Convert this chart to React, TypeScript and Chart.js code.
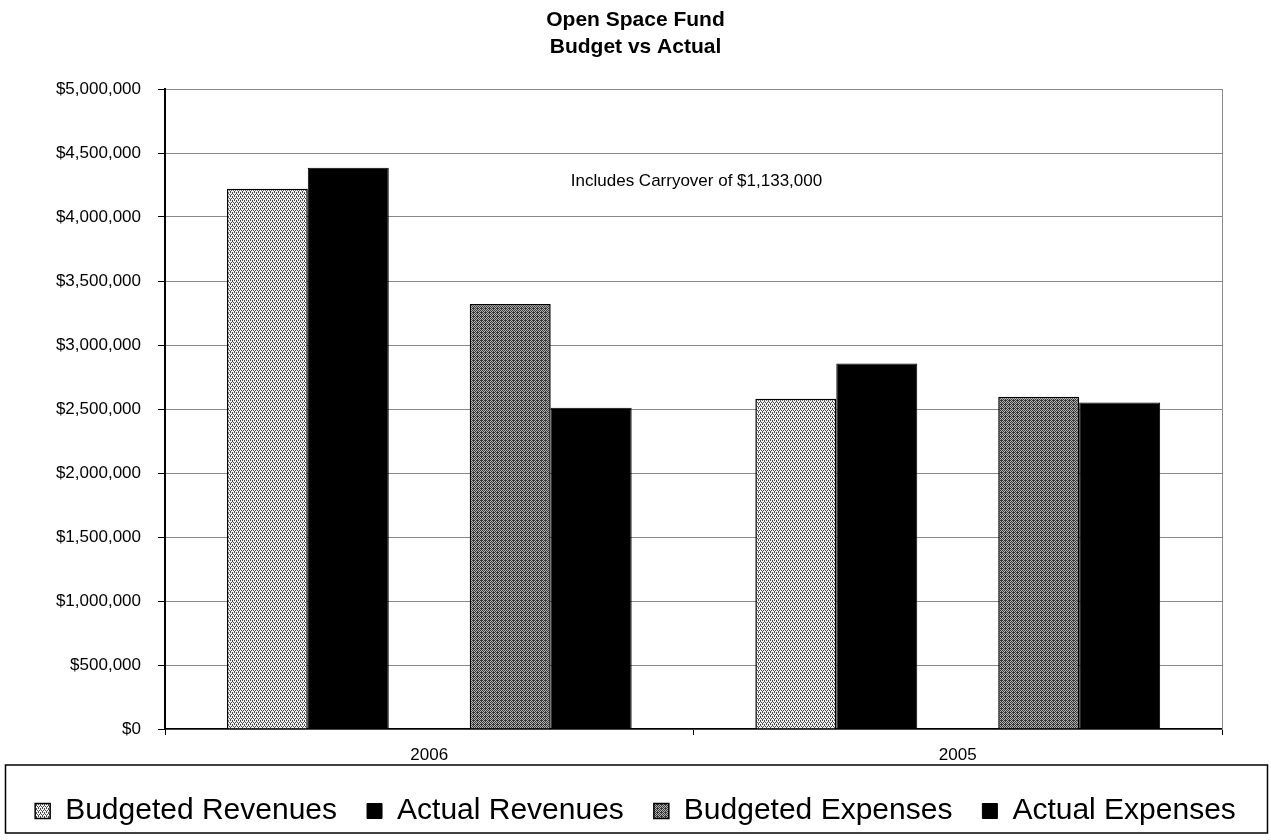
import React, { useEffect, useRef } from 'react';
import { Chart, registerables } from 'chart.js';

Chart.register(...registerables);

const categories = ['2006', '2005'];
const seriesLabels = ['Budgeted Revenues', 'Actual Revenues', 'Budgeted Expenses', 'Actual Expenses'];
const budgetedRevenues = [4220000, 2580000];
const actualRevenues = [4385000, 2855000];
const gapSeries = [null, null];
const budgetedExpenses = [3320000, 2595000];
const actualExpenses = [2510000, 2550000];
const titleLines = ['Open Space Fund', 'Budget vs Actual'];
const noteText = 'Includes Carryover of $1,133,000';
const noteValue = 4280000;
const yMin = 0;
const yMax = 5000000;
const yStep = 500000;

const FONT = '"Liberation Sans", Arial, Helvetica, sans-serif';

function makePattern(size: number, bg: string, dots: [number, number][], dotColor: string) {
  const c = document.createElement('canvas');
  c.width = size;
  c.height = size;
  const g = c.getContext('2d')!;
  g.fillStyle = bg;
  g.fillRect(0, 0, size, size);
  g.fillStyle = dotColor;
  dots.forEach(([x, y]) => g.fillRect(x, y, 1, 1));
  const ctx = document.createElement('canvas').getContext('2d')!;
  return ctx.createPattern(c, 'repeat') as CanvasPattern;
}

export default function App() {
  const ref = useRef<HTMLCanvasElement | null>(null);

  useEffect(() => {
    document.body.style.margin = '0';
    const canvas = ref.current;
    if (!canvas) return;

    const lightPattern = makePattern(
      4,
      '#f2f2f2',
      [[0, 0], [2, 0], [1, 2], [3, 2], [0, 1], [2, 3]],
      '#4a4a4a'
    );
    const darkPattern = makePattern(
      4,
      '#b0b0b0',
      [[0, 0], [2, 0], [1, 1], [3, 1], [0, 2], [2, 2], [1, 3], [3, 3], [1, 0]],
      '#383838'
    );

    const legendPadding = 30;
    const legendFontSize = 30;

    const framePlugin = {
      id: 'framePlugin',
      afterDraw(chart: any) {
        const ctx = chart.ctx;
        const lg = chart.legend;
        if (!lg) return;
        const cy = lg.top + legendPadding + legendFontSize / 2;
        ctx.save();
        ctx.strokeStyle = '#000';
        ctx.lineWidth = 1.5;
        ctx.strokeRect(5.5, cy - 46, 1262, 68);
        ctx.restore();
      },
      afterDatasetsDraw(chart: any) {
        const ctx = chart.ctx;
        const area = chart.chartArea;
        const y = chart.scales.y.getPixelForValue(noteValue);
        ctx.save();
        ctx.font = `17px ${FONT}`;
        ctx.fillStyle = '#000';
        ctx.textAlign = 'center';
        ctx.textBaseline = 'middle';
        ctx.fillText(noteText, (area.left + area.right) / 2 + 3, y);
        ctx.restore();
      },
    };

    const chart = new Chart(canvas, {
      type: 'bar',
      data: {
        labels: categories,
        datasets: [
          { label: seriesLabels[0], data: budgetedRevenues, backgroundColor: lightPattern, borderColor: '#000', borderWidth: 1.5 },
          { label: seriesLabels[1], data: actualRevenues, backgroundColor: '#000', borderColor: '#000', borderWidth: 1 },
          { label: '', data: gapSeries as any, backgroundColor: 'rgba(0,0,0,0)', borderWidth: 0 },
          { label: seriesLabels[2], data: budgetedExpenses, backgroundColor: darkPattern, borderColor: '#000', borderWidth: 1.5 },
          { label: seriesLabels[3], data: actualExpenses, backgroundColor: '#000', borderColor: '#000', borderWidth: 1 },
        ],
      },
      options: {
        animation: false,
        responsive: false,
        devicePixelRatio: 1,
        layout: { padding: { left: 0, right: 0, top: 0, bottom: 4 } },
        datasets: { bar: { categoryPercentage: 0.766, barPercentage: 1 } } as any,
        scales: {
          x: {
            grid: { display: true, drawOnChartArea: false, tickLength: 6, color: '#000', offset: true },
            border: { color: '#000', width: 1.5 },
            ticks: { color: '#000', font: { family: FONT, size: 17 }, padding: 10 },
            afterFit: (s: any) => { s.height = 37; },
          },
          y: {
            min: yMin,
            max: yMax,
            ticks: {
              stepSize: yStep,
              color: '#000',
              font: { family: FONT, size: 17 },
              padding: 17,
              callback: (v: any) => '$' + Number(v).toLocaleString('en-US'),
            },
            grid: { color: '#8a8a8a', tickColor: '#000', tickLength: 7, lineWidth: 1 },
            border: { color: '#000', width: 2 },
            afterFit: (s: any) => { s.width = 165; },
          },
          yRight: {
            position: 'right',
            display: true,
            ticks: { display: false },
            grid: { drawOnChartArea: false, drawTicks: false },
            border: { color: '#8a8a8a', width: 1 },
            afterFit: (s: any) => { s.width = 49; },
          },
        } as any,
        plugins: {
          title: {
            display: true,
            text: titleLines,
            color: '#000',
            font: { family: FONT, size: 21, weight: 'bold', lineHeight: 1.3 },
            padding: { top: 6.4, bottom: 28 },
          },
          legend: {
            display: true,
            position: 'bottom',
            labels: {
              color: '#000',
              font: { family: FONT, size: legendFontSize },
              boxWidth: 15,
              boxHeight: 15,
              padding: legendPadding,
              filter: (item: any) => item.text !== '',
            },
          },
          tooltip: { enabled: false },
        },
      },
      plugins: [framePlugin],
    });

    return () => chart.destroy();
  }, []);

  return (
    <div style={{ width: 1271, height: 840, overflow: 'hidden' }}>
      <canvas ref={ref} width={1271} height={840} style={{ display: 'block' }} />
    </div>
  );
}
